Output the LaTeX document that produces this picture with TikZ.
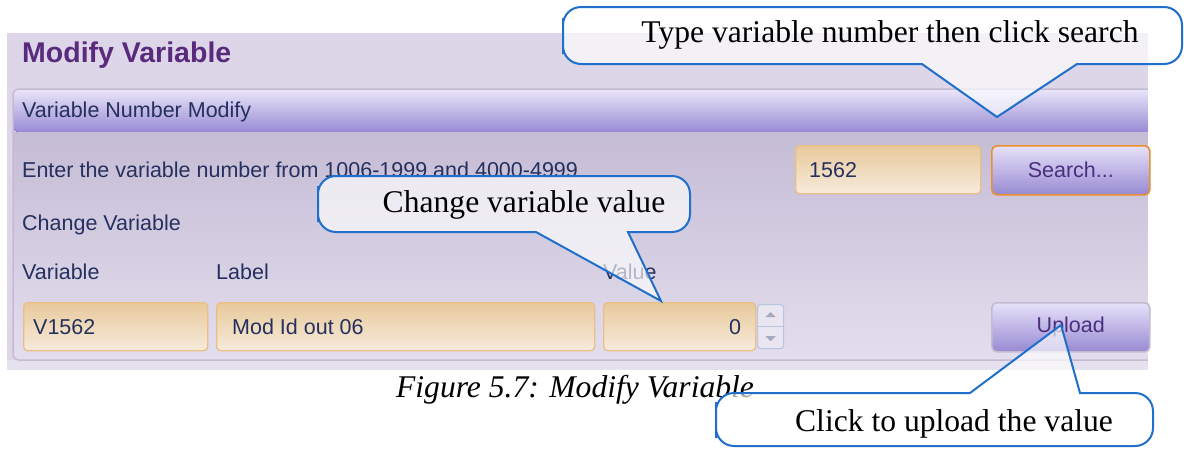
\documentclass[tikz,border=0pt]{standalone}
\usetikzlibrary{positioning}
\usepackage{fontspec}
\setmainfont{Liberation Serif}
\newfontfamily\uifont{Liberation Sans}
\definecolor{winbg}{HTML}{DDD6E8}
\definecolor{winlow}{HTML}{E6E1EE}
\definecolor{grpline}{HTML}{C4BBD3}
\definecolor{headtop}{HTML}{EAE6FA}
\definecolor{headmid}{HTML}{B3A9DF}
\definecolor{headbot}{HTML}{988BD4}
\definecolor{bodytop}{HTML}{C5BCD5}
\definecolor{bodybot}{HTML}{E3DEEE}
\definecolor{navy}{HTML}{25305E}
\definecolor{titlepurple}{HTML}{5A2B7D}
\definecolor{fieldtop}{HTML}{E8C99B}
\definecolor{fieldbot}{HTML}{F6EBDC}
\definecolor{fieldline}{HTML}{EABF86}
\definecolor{btntop}{HTML}{E6E1F9}
\definecolor{btnmid}{HTML}{B6AAE4}
\definecolor{btnbot}{HTML}{978AD3}
\definecolor{btntext}{HTML}{4A2F7E}
\definecolor{orange}{HTML}{E98F2C}
\definecolor{spinline}{HTML}{B9C6DE}
\definecolor{spinfill}{HTML}{E9E6F1}
\definecolor{spinarrow}{HTML}{A3AABD}
\definecolor{callblue}{HTML}{1F6FCB}

\begin{document}
\begin{tikzpicture}[x=1pt,y=-1pt,inner sep=0pt]
\tikzstyle{uitext}=[anchor=west,text=navy,font=\uifont\fontsize{21.5}{26}\selectfont]
\tikzstyle{field}=[draw=fieldline,line width=1.3,rounded corners=4,top color=fieldtop,bottom color=fieldbot,anchor=north west,minimum height=48]
\tikzstyle{button}=[rounded corners=5,top color=btntop,middle color=btnmid,bottom color=btnbot,anchor=north west,line width=1.6,text=btntext,font=\uifont\fontsize{21.5}{26}\selectfont,minimum width=158,minimum height=49]
\tikzstyle{bubble}=[draw=callblue,line width=2,fill=white,fill opacity=0.65,rounded corners=18]
\tikzstyle{note}=[font=\fontsize{31.6}{38}\selectfont]

\useasboundingbox (0,0) rectangle (1184,448);

% window and group box
\fill[winbg] (7,33) rectangle (1148,370);
\fill[winlow] (7,360) rectangle (1148,370);
\fill[rounded corners=6,top color=headtop,middle color=headmid,bottom color=headbot] (13,89) rectangle (1160,132);
\fill[top color=bodytop,bottom color=bodybot] (13,132) [rounded corners=6] -- (13,360) -- (1160,360) [sharp corners] -- (1160,132) -- cycle;
\draw[grpline,line width=1.5] (1148,89) [rounded corners=6] -- (13,89) -- (13,360) [sharp corners] -- (1148,360);
\fill[white] (1148,0) rectangle (1184,448);

\node[anchor=west,text=titlepurple,font=\uifont\bfseries\fontsize{28.5}{34}\selectfont] (title) at (22,55) {Modify Variable};
\node[uitext] (grphead) at (22,112) {Variable Number Modify};
\node[uitext] (enter) at (22,170) {Enter the variable number from 1006-1999 and 4000-4999};
\node[uitext] (change) at (22,225) {Change Variable};
\node[uitext] (varhead) at (22,272) {Variable};
\node[uitext] (labhead) at (216,272) {Label};
\node[uitext] (valhead) at (603,272) {Value};

% fields and buttons
\node[field,minimum width=185] (numbox) at (795,145) {};
\node[uitext,right=14pt of numbox.west] {1562};
\node[button,draw=orange] (search) at (991,145) {Search...};
\node[field,minimum width=184] (varbox) at (23,302) {};
\node[uitext,right=10pt of varbox.west] {V1562};
\node[field,minimum width=378] (labbox) at (216,302) {};
\node[uitext,right=16pt of labbox.west] {Mod Id out 06};
\node[field,minimum width=152] (valbox) at (603,302) {};
\node[uitext,anchor=east,left=15pt of valbox.east] {0};
\node[anchor=north west,draw=spinline,fill=spinfill,line width=1.2,rounded corners=3,minimum width=26,minimum height=44] (spin) at (757,304) {};
\draw[spinline,line width=1.2] (spin.west) -- (spin.east);
\fill[spinarrow] ([yshift=-8pt]spin.north) -- ++(-5,5) -- ++(10,0) -- cycle;
\fill[spinarrow] ([yshift=8pt]spin.south) -- ++(-5,-5) -- ++(10,0) -- cycle;
\node[button,draw=grpline] (upload) at (991,302) {Upload};

% caption
\node[note,font=\fontsize{31.6}{38}\selectfont\itshape] (caption) at (575,390) {Figure 5.7: Modify Variable};

% callouts
\coordinate (tipsearch) at (997,117);
\coordinate (tipvalue) at (661,301);
\coordinate (tipupload) at (1061,325);
\draw[bubble] (563,36) -- (563,7) -- (1182,7) -- (1182,64) [sharp corners] -- (1077,64) -- (tipsearch) -- (922,64) [rounded corners=18] -- (563,64) -- cycle;
\draw[bubble] (318,204) -- (318,176) -- (690,176) -- (690,232) [sharp corners] -- (628,232) -- (tipvalue) -- (536,232) [rounded corners=18] -- (318,232) -- cycle;
\draw[bubble] (716,420) -- (716,393) [sharp corners] -- (970,393) -- (tipupload) -- (1080,393) [rounded corners=18] -- (1153,393) -- (1153,446) -- (716,446) -- cycle;
\node[note] (searchnote) at (890,35) {Type variable number then click search};
\node[note] (valuenote) at (524,205) {Change variable value};
\node[note] (uploadnote) at (954,424) {Click to upload the value};
\end{tikzpicture}
\end{document}
